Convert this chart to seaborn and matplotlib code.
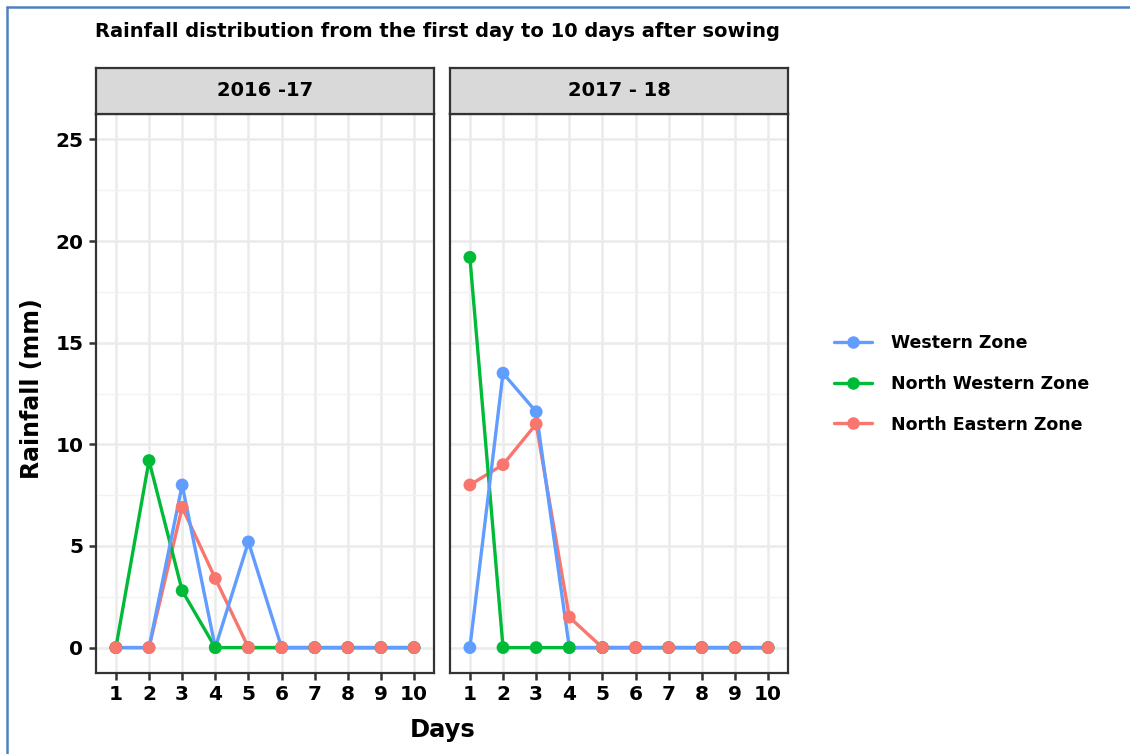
import pandas as pd
import seaborn as sns
import matplotlib.pyplot as plt
from matplotlib.lines import Line2D

days = list(range(1, 11))
seasons = ["2016 -17", "2017 - 18"]
zones = ["Western Zone", "North Western Zone", "North Eastern Zone"]

# 2016-17
western_1617 = [0, 0, 8.0, 0, 5.2, 0, 0, 0, 0, 0]
north_western_1617 = [0, 9.2, 2.8, 0, 0, 0, 0, 0, 0, 0]
north_eastern_1617 = [0, 0, 6.9, 3.4, 0, 0, 0, 0, 0, 0]
# 2017-18
western_1718 = [0, 13.5, 11.6, 0, 0, 0, 0, 0, 0, 0]
north_western_1718 = [19.2, 0, 0, 0, 0, 0, 0, 0, 0, 0]
north_eastern_1718 = [8.0, 9.0, 11.0, 1.5, 0, 0, 0, 0, 0, 0]

palette = {"Western Zone": "#619CFF", "North Western Zone": "#00BA38",
           "North Eastern Zone": "#F8766D"}

rows = []
for season, series in zip(seasons, [
        [western_1617, north_western_1617, north_eastern_1617],
        [western_1718, north_western_1718, north_eastern_1718]]):
    for zone, vals in zip(zones, series):
        for d, v in zip(days, vals):
            rows.append({"Season": season, "Zone": zone, "Day": d, "Rainfall": v})
df = pd.DataFrame(rows)

sns.set_theme(style="white")
plt.rcParams["font.family"] = ["DejaVu Sans"]

W, H = 1130, 754
fig = plt.figure(figsize=(W / 100, H / 100), dpi=100)
fig.patch.set_facecolor("white")


def px_axes(x0, y0, x1, y1):
    return fig.add_axes([x0 / W, 1 - y1 / H, (x1 - x0) / W, (y1 - y0) / H])


panels = [(96, 434), (450, 788)]
for i, (season, (x0, x1)) in enumerate(zip(seasons, panels)):
    ax = px_axes(x0, 114, x1, 673)
    sub = df[df["Season"] == season]
    # lines: blue drawn last (on top)
    sns.lineplot(data=sub, x="Day", y="Rainfall", hue="Zone",
                 hue_order=["North Eastern Zone", "North Western Zone", "Western Zone"],
                 palette=palette, linewidth=2.4, ax=ax, legend=False, zorder=3)
    # points: red drawn last (on top)
    sns.scatterplot(data=sub, x="Day", y="Rainfall", hue="Zone",
                    hue_order=["Western Zone", "North Western Zone", "North Eastern Zone"],
                    palette=palette, s=85, edgecolor="none", ax=ax, legend=False, zorder=4)
    ax.set_xlim(0.4, 10.6)
    ax.set_ylim(-1.25, 26.25)
    ax.set_xticks(days)
    ax.set_yticks([0, 5, 10, 15, 20, 25])
    ax.set_yticks([2.5, 7.5, 12.5, 17.5, 22.5], minor=True)
    ax.grid(True, which="major", color="#EBEBEB", linewidth=1.8, zorder=0)
    ax.grid(True, which="minor", axis="y", color="#F2F2F2", linewidth=1.0, zorder=0)
    ax.set_axisbelow(True)
    for sp in ax.spines.values():
        sp.set_color("#333333")
        sp.set_linewidth(1.6)
    ax.tick_params(axis="both", which="major", length=5, width=1.8, color="#333333",
                   labelsize=14.5, pad=4, bottom=True, left=(i == 0))
    ax.tick_params(axis="y", which="minor", length=0)
    for lab in ax.get_xticklabels() + ax.get_yticklabels():
        lab.set_fontweight("bold")
        lab.set_color("black")
    if i > 0:
        ax.set_yticklabels([])
    ax.set_xlabel("")
    ax.set_ylabel("")

    sax = px_axes(x0, 68, x1, 114)
    sax.set_facecolor("#D9D9D9")
    sax.set_xticks([])
    sax.set_yticks([])
    for sp in sax.spines.values():
        sp.set_color("#333333")
        sp.set_linewidth(1.6)
    sax.text(0.5, 0.5, season, ha="center", va="center", fontsize=14,
             fontweight="bold", color="black", transform=sax.transAxes)

fig.text(95 / W, 1 - 37 / H, "Rainfall distribution from the first day to 10 days after sowing",
         ha="left", va="baseline", fontsize=14, fontweight="bold", color="black")
fig.text(443 / W, 1 - 737 / H, "Days", ha="center", va="baseline", fontsize=17.5,
         fontweight="bold", color="black")
fig.text(32 / W, 1 - 389 / H, "Rainfall (mm)", ha="center", va="center", fontsize=17,
         fontweight="bold", color="black", rotation=90)

handles = [Line2D([0], [0], color=palette[z], lw=2.4, marker="o", markersize=9,
                  markeredgewidth=0) for z in zones]
leg = fig.legend(handles, zones, loc="center left", bbox_to_anchor=(834 / W, 1 - 384 / H),
                 frameon=False, handlelength=2.2, handletextpad=1.1,
                 labelspacing=1.3, borderpad=0, borderaxespad=0,
                 prop={"weight": "bold", "size": 12.5})
for t in leg.get_texts():
    t.set_color("black")

# blue frame on the left and top edges
fig.add_artist(Line2D([7 / W, 7 / W], [0, 1 - 7 / H], color="#4F81BD", lw=1.8))
fig.add_artist(Line2D([7 / W, 1], [1 - 7 / H, 1 - 7 / H], color="#4F81BD", lw=1.8))

fig.savefig("out.png", dpi=100, facecolor="white")
